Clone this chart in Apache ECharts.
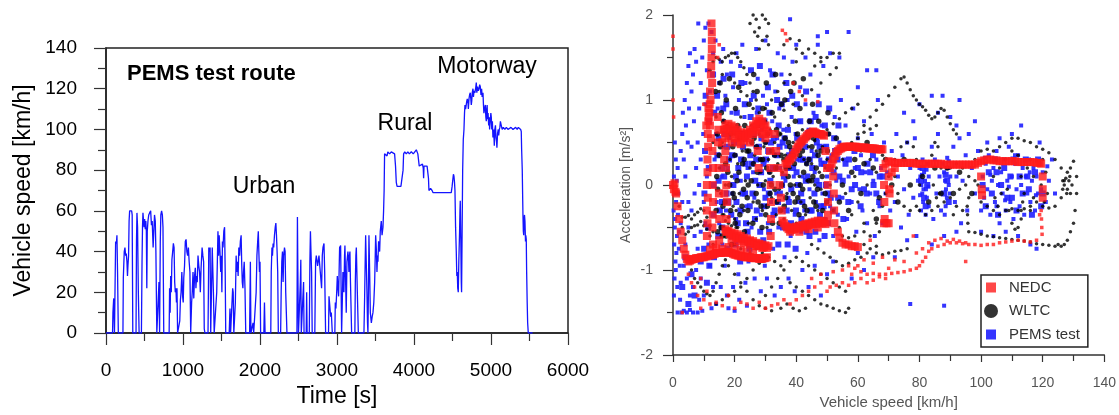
<!DOCTYPE html>
<html><head><meta charset="utf-8">
<script src="https://cdn.jsdelivr.net/npm/echarts@6/dist/echarts.min.js"></script>
<style>html,body{margin:0;padding:0;background:#fff}#c{width:1119px;height:415px}</style>
</head><body><div id="c"></div>
<script>
// ---------- Left panel: PEMS test route speed trace ----------
const timeS = [0,85,90,100,110,120,125,135,142,150,160,220,225,237,246,255,263,272,279,285,293,300,307,333,340,348,390,396,402,410,420,430,460,468,474,480,486,494,502,510,517,524,530,536,545,555,566,580,590,600,612,622,630,640,648,660,680,688,696,705,712,722,732,740,750,820,826,833,840,848,856,866,875,884,892,900,908,915,922,930,950,958,966,975,985,995,1003,1010,1020,1030,1040,1050,1060,1070,1080,1090,1100,1112,1120,1130,1140,1150,1160,1168,1176,1185,1195,1205,1215,1225,1235,1248,1258,1268,1276,1285,1325,1335,1345,1352,1360,1372,1380,1388,1395,1405,1430,1438,1446,1454,1462,1470,1480,1490,1497,1505,1512,1520,1530,1540,1548,1555,1600,1610,1618,1640,1645,1652,1660,1672,1680,1690,1700,1708,1716,1725,1735,1745,1755,1762,1770,1778,1786,1795,1805,1815,1865,1875,1882,1900,1910,1918,1942,1950,1960,1970,1978,1985,1993,2000,2008,2050,2058,2066,2140,2146,2155,2162,2170,2178,2188,2198,2206,2214,2222,2230,2238,2268,2275,2283,2292,2300,2308,2318,2326,2334,2342,2350,2480,2486,2492,2500,2518,2524,2530,2536,2560,2566,2572,2600,2606,2612,2640,2648,2655,2662,2670,2678,2712,2722,2731,2740,2748,2757,2766,2774,2783,2792,2800,2809,2818,2831,2840,2852,2890,2896,2903,2909,2918,2926,2939,2972,2978,2986,2996,3004,3013,3021,3030,3034,3047,3060,3068,3077,3085,3090,3098,3103,3112,3120,3129,3142,3150,3155,3162,3168,3175,3181,3190,3232,3238,3245,3251,3258,3264,3277,3350,3359,3366,3372,3380,3389,3396,3402,3408,3415,3424,3433,3446,3457,3467,3478,3489,3495,3502,3510,3519,3526,3532,3540,3554,3562,3575,3585,3597,3605,3612,3618,3640,3650,3660,3683,3705,3727,3748,3760,3770,3780,3800,3830,3848,3858,3865,3880,3900,3920,3940,3965,3990,4010,4030,4050,4060,4068,4090,4110,4120,4125,4130,4150,4170,4181,4188,4194,4205,4215,4224,4235,4246,4280,4320,4360,4400,4440,4484,4495,4506,4512,4519,4526,4532,4540,4549,4556,4562,4568,4575,4582,4592,4597,4601,4608,4614,4618,4625,4632,4640,4649,4656,4662,4670,4679,4686,4692,4700,4706,4714,4722,4731,4738,4744,4750,4756,4766,4772,4780,4790,4800,4809,4816,4825,4835,4845,4853,4861,4870,4878,4885,4896,4902,4908,4915,4926,4933,4939,4945,4950,4955,4962,4970,4978,4982,4990,4998,5004,5010,5018,5025,5033,5040,5043,5050,5058,5065,5072,5077,5085,5094,5100,5108,5115,5122,5133,5145,5160,5180,5199,5220,5240,5260,5285,5300,5320,5340,5355,5372,5385,5393,5398,5406,5412,5415,5420,5425,5430,5435,5441,5448,5452,5458,5463,5470,5476,5484,5540];
const speedKmh = [0,0,10,17,0,0,45,44,48,30,0,0,27,40,42,38,39,35,28,33,38,55,60,60,58,0,0,45,59,52,20,0,0,35,52,59,56,52,56,51,55,50,22,50,55,58,59,60,53,55,42,42,58,55,40,0,0,25,0,45,58,60,58,52,0,0,22,10,28,20,36,40,44,42,25,20,22,15,22,0,0,6,16,20,30,18,15,27,33,45,46,40,38,42,35,30,0,15,20,30,17,28,32,22,28,25,38,33,30,20,32,42,38,35,2,0,0,42,40,42,0,0,42,30,20,0,0,20,35,50,38,48,40,30,38,20,45,42,50,52,30,0,0,12,0,0,22,20,0,0,15,38,30,35,28,42,38,45,48,35,25,22,30,35,22,0,0,35,0,0,5,0,0,20,38,45,50,40,30,35,0,0,15,0,0,30,42,38,44,42,48,52,54,48,40,30,0,0,20,35,40,25,38,42,40,20,10,0,0,57,30,0,0,25,36,0,0,25,0,0,20,0,0,35,50,40,30,0,0,35,38,38,33,33,38,38,30,30,22,38,42,44,30,0,0,18,15,15,8,10,0,0,15,12,20,28,22,18,35,42,43,0,0,30,22,20,38,43,25,10,35,40,35,30,38,40,25,15,0,0,25,38,42,30,20,0,0,18,35,48,35,20,5,0,20,48,30,10,5,8,10,15,25,35,48,42,30,38,35,45,40,50,55,48,52,60,70,88,88,87,89,88,89,89,88,82,74,72,72,72,72,80,88,89,88,89,88,89,88,89,90,88,88,82,82,83,81,76,82,82,82,82,76,70,70,71,71,70,69,69,69,69,69,69,69,72,76,78,77,74,70,52,40,28,30,22,20,35,50,60,65,45,25,20,50,80,95,100,108,112,110,110,114,115,114,110,115,117,118,115,112,114,118,120,116,119,118,120,123,118,121,119,120,122,121,117,120,116,118,112,108,110,112,106,104,110,112,105,108,102,106,100,104,108,106,100,104,96,100,95,92,100,102,96,94,91,98,100,97,100,101,104,102,100,101,100,101,100,100,101,100,100,101,100,101,101,100,99,90,80,65,58,50,48,56,58,55,45,48,46,30,15,5,0,0];
const timeTicks = [0,1000,2000,3000,4000,5000,6000];
const speedTicks = [0,20,40,60,80,100,120,140];

// ---------- Right panel: acceleration [m/s2] vs vehicle speed [km/h] ----------
const pemsTest = [[0.3,0.1],[0.5,-0.1],[0.2,-0.3],[0.6,-0.5],[0.4,-0.7],[0.8,-0.9],[0.5,-1.1],[0.3,-1.3],[0.9,0.3],[1.2,0.05],[1.0,-0.2],[0.7,-0.4],[1.3,-0.6],[1.1,-0.8],[0.9,-1.0],[1.4,-1.2],[0.6,0.5],[1.5,0.2],[1.8,-0.1],[1.6,-0.35],[2.0,-0.55],[1.9,-0.75],[2.2,-0.95],[2.5,-1.15],[2.3,-1.35],[1.5,-1.5],[2.8,-1.5],[3.5,-1.48],[4.5,-1.5],[5.5,-1.47],[6.5,-1.5],[8,-1.5],[9.5,-1.48],
[2.5,0.4],[3,0.6],[3.2,0.85],[3.8,1.0],[4.2,0.7],[4.5,1.2],[5,1.4],[5.5,1.55],[4.8,0.5],[3.5,0.3],[5.2,0.9],[6,1.1],[6.5,1.3],[7,1.6],[7.5,1.45],[6.8,0.75],[6,0.45],[7.5,0.2],[8,0.5],[8.5,0.9],[9,1.2],[9.5,1.5],[10,1.7],[10.5,1.85],[11,1.35],[8.2,1.9],[11.5,1.9],[12.5,1.8],[13,1.55],[12,1.1],[10.5,0.95],[9.8,0.6],[9,0.3],[8.5,0.0],[7,-0.1],[6,-0.3],[5,-0.5],[4,-0.7],[3.5,-0.95],[4.5,-1.1],[5.5,-1.3],[6.5,-1.2],[7.5,-1.0],[8,-0.75],[9,-0.55],[10,-0.2],[11,0.1],[10.5,-0.45],[11.5,-0.7],[12,-0.95],[13,-1.2],[14,-1.4],[12.5,-1.45],[10,-1.3],[9,-1.1],[8.5,-1.35],[6,-0.9],[7,-0.6],[5,-0.2],[4,0.1],[3,-0.2],[2.5,-0.45],
[13.5,0.3],[14,0.6],[14.5,0.9],[15,1.2],[15.5,1.45],[14.2,-0.2],[15,-0.45],[15.8,0.1],[16.2,0.45],[16.5,0.75],[17,1.05],[17.5,1.3],[16,-0.7],[16.8,-0.95],[17.2,-0.3],[17.8,0.2],[18.3,0.55],[18.5,-0.55],[19,0.85],[19.5,1.15],[19.2,-0.1],[19.8,-0.8],[20.3,0.35],[20.5,-0.4],[21,0.65],[21.4,1.0],[21.8,1.4],[21.2,-1.05],[22,0.05],[22.5,-0.65],[22.8,0.45],[23.2,0.8],[23.5,1.2],[23.8,-0.25],[24.2,0.2],[24.5,-0.9],[25,0.6],[25.3,1.0],[25.5,-0.5],[13.8,1.7],[16.3,1.6],[18.8,1.45],[20.6,1.55],[22.5,1.65],[15.5,-1.2],[17.5,-1.3],[19.5,-1.2],[21.5,-1.35],[23.5,-1.15],[18,-1.45],[20,-1.48],[24,-1.42],
[26,0.15],[26.4,-0.15],[26.8,0.45],[27.2,0.85],[27.5,1.25],[27.8,-0.7],[28.2,0.3],[28.5,-0.35],[28.8,0.65],[29.2,1.05],[29.5,-0.05],[29.8,-0.95],[30.2,0.5],[30.5,0.95],[30.8,-0.45],[31.2,0.15],[31.5,1.35],[31.8,-0.2],[32.2,0.75],[32.5,-0.75],[32.8,0.35],[33.2,1.1],[33.5,-0.1],[33.8,0.55],[34.2,-0.5],[34.5,0.9],[34.8,0.2],[35.2,1.3],[35.5,-0.3],[35.8,0.65],[36.2,-0.85],[36.5,0.05],[36.8,0.45],[37.2,1.0],[37.5,-0.15],[37.8,0.3],[38.2,-0.6],[38.5,0.8],[38.8,1.45],[39.2,0.1],[39.5,-0.35],[39.8,0.6],[26.5,-1.1],[28.5,-1.25],[30.5,-1.1],[33,-1.3],[35,-1.2],[37.5,-1.1],[39.5,-1.25],[27,1.6],[30,1.7],[34,1.55],[36,1.5],[38,1.95],[40,1.65],
[40.2,0.3],[40.6,-0.2],[41,0.75],[41.3,1.15],[41.6,-0.55],[42,0.1],[42.3,0.5],[42.6,-0.3],[43,0.95],[43.3,0.25],[43.6,-0.8],[44,0.65],[44.3,-0.05],[44.6,1.3],[45,0.4],[45.3,-0.45],[45.6,0.85],[46,0.15],[46.4,-0.2],[46.8,0.55],[47.2,1.05],[47.5,-0.65],[47.8,0.3],[48.2,0.7],[48.5,-0.1],[48.8,1.4],[49.2,0.45],[49.5,-0.4],[50,0.1],[50.5,0.6],[51,-0.25],[51.5,0.35],[52,-0.6],[52.5,0.8],[53,0.05],[53.5,-0.35],[54,0.5],[54.5,1.0],[55,-0.15],[42,-1.0],[44,-1.2],[46,-0.95],[48,-1.3],[50,-1.05],[52,-0.9],[43,1.5],[47,1.65],[51,1.55],[54,1.5],[57,1.8],[50,1.8],[47,1.75],
[55.5,0.3],[56,0.7],[56.5,-0.4],[57,0.1],[57.5,0.45],[58,-0.2],[58.5,0.9],[59,0.2],[59.5,-0.55],[60,0.55],[60.5,-0.05],[61,0.35],[61.5,-0.3],[62,0.75],[62.5,0.15],[63,-0.45],[63.5,0.45],[64,-0.1],[64.5,0.6],[65,0.05],[65.5,-0.6],[66,0.3],[66.5,1.0],[67,-0.25],[67.5,0.2],[68,-0.45],[68.5,0.5],[69,-0.1],[69.5,0.15],[60,-0.8],[62,-1.0],[65,-0.85],[58,-1.1],[66,1.35],[60,1.15],[63,1.35],
[70.5,-0.3],[71,0.4],[72,-0.2],[72.5,0.6],[73,0.1],[74,-0.5],[74.5,0.35],[75,-0.05],[76,0.5],[76.5,-0.35],[77,0.2],[78,-0.15],[78.5,0.55],[79,-0.6],[79.5,0.05],
[80,0.2],[80.3,0.1],[80.6,0.0],[80.9,-0.1],[81.2,-0.2],[81.5,0.15],[81.8,0.05],[82.1,-0.05],[82.4,-0.15],[82.7,0.25],[83,0.1],[80.5,-0.3],[81,0.3],[82,-0.35],[83,-0.25],[81.3,-0.05],[82.3,0.18],[80.8,0.12],[80.2,-0.12],[82.9,-0.02],
[84,0.45],[84.5,-0.4],[85,0.3],[85.5,-0.1],[86,0.6],[86.5,0.1],[87,-0.3],[87.5,0.25],
[88,0.15],[88.3,0.05],[88.6,-0.05],[88.9,-0.15],[89.2,0.2],[89.5,0.0],[89.8,-0.1],[90,0.1],[88.5,-0.25],[89.5,0.28],[88.2,-0.35],[89,0.32],
[91,0.45],[91.5,-0.2],[92,0.1],[93,0.55],[93.5,-0.45],[94,0.05],[95,0.35],[95.5,-0.3],[90,0.8],[92,0.7],[86,0.85],[78,0.75],[84,1.05],[80,0.95],[75,0.85],[96,0.6],[88,-0.6],[84,-0.7],[76,-0.65],[92,-0.55],
[87.5,1.05],[93,1.0],[98,0.75],[77,-1.4],[88,-1.42],[72,-0.85],
[97,0.2],[98,-0.1],[99,0.4],[100,-0.3],[100.5,0.1],[101,-0.15],[101.5,0.25],[102,-0.05],[102.5,0.35],[103,-0.35],[103.5,0.05],[104,0.2],[104.5,-0.2],[105,0.4],[105.5,0.0],[106,-0.45],[106.5,0.15],[107,-0.1],[107.5,0.3],[108,-0.3],[108.5,0.05],[109,0.45],[109.5,-0.2],[110,0.1],[110.5,-0.4],[111,0.25],[111.5,-0.05],[112,0.35],[112.5,-0.25],[113,0.0],[113.5,0.2],[114,-0.35],[114.5,0.1],[115,-0.1],[115.5,0.3],[116,-0.2],[116.5,0.05],[117,0.2],[117.5,-0.3],[118,0.1],[118.5,-0.1],[119,0.25],[119.5,-0.05],[120,0.15],[121,-0.2],[122,0.05],[123,0.3],[124,-0.1],[100,-0.55],[104,-0.6],[108,-0.55],[112,-0.6],[116,-0.7],[118,-0.75],[102,0.5],[110,0.6],[113,0.7],[106,0.55],[119,0.5],[111,0.35],[105,-0.25],[103,0.12],[107.8,-0.18],[115.8,0.15],[117.8,-0.12],[101.2,0.32],[109,-0.02],[121.5,0.22]];

const pemsCore = [[10.2,-0.1],[10.4,0.4],[10.1,-0.75],[10.6,1.05],[11.6,0.2],[11.4,-0.5],[11.8,-0.95],[11.7,0.75],[13.2,0.0],[13.1,-0.35],[13.4,0.85],[13.3,-0.85],[13.0,1.3],[14.4,0.35],[14.7,-0.6],[14.3,1.05],[14.8,0.05],[16.1,0.2],[15.9,-0.2],[16.3,0.9],[16.0,-0.5],[16.4,1.25],[17.4,-0.1],[17.6,0.45],[17.7,-0.75],[17.3,0.95],[19.1,0.35],[18.9,-0.35],[19.3,0.65],[19.0,-0.6],[19.2,1.3],[20.4,0.1],[20.7,0.85],[20.6,-0.2],[20.3,-0.7],[22.1,0.3],[21.9,-0.3],[22.2,1.2],[22.3,0.6],[21.8,-0.9],[23.4,-0.1],[23.6,0.25],[23.3,0.95],[23.7,-0.45],[25.1,0.35],[24.9,-0.25],[25.2,0.8],[24.8,-0.75],[25.3,1.35],[26.3,0.6],[26.6,-0.4],[26.7,0.05],[26.2,1.05],[28.1,0.0],[27.9,0.45],[28.3,-0.55],[27.7,0.9],[28.2,1.4],[29.4,0.25],[29.6,-0.25],[29.7,0.75],[29.3,-0.65],[31.1,-0.1],[30.9,0.4],[31.3,0.85],[31.2,-0.55],[30.8,1.15],[32.4,0.2],[32.6,-0.35],[32.7,0.55],[32.3,1.3],[34.1,-0.2],[33.9,0.35],[34.3,0.7],[34.2,-0.7],[33.8,1.0],[35.4,0.0],[35.6,0.5],[35.7,-0.5],[35.3,0.95],[37.1,0.2],[36.9,-0.3],[37.3,0.65],[37.2,-0.7],[36.8,1.2],[38.4,-0.05],[38.6,0.4],[38.7,1.05],[38.3,-0.45],[40.1,0.15],[39.9,-0.3],[40.3,0.55],[40.2,0.95],[39.8,-0.75],[41.4,0.3],[41.6,-0.1],[41.7,-0.4],[41.3,0.75],[43.1,0.05],[42.9,0.45],[43.3,-0.55],[43.2,1.1],[44.4,0.3],[44.6,-0.3],[44.7,0.75],[44.3,-0.6],[46.1,0.35],[45.9,-0.1],[46.3,0.8],[46.2,-0.55],[47.4,0.0],[47.6,0.45],[47.7,-0.35],[47.3,0.95],[49.1,0.25],[48.9,-0.25],[49.3,0.7],[49.2,-0.6],[50.4,-0.1],[50.6,0.3],[50.7,0.9],[50.3,-0.45],[52.1,0.15],[51.9,-0.3],[52.3,0.55],[53.4,0.3],[53.6,-0.15],[53.7,0.7],[55.1,0.05],[54.9,0.45],[55.3,-0.4],[57.1,0.3],[56.9,-0.2],[59.1,0.0],[58.9,0.4],[61.1,0.15],[60.9,-0.25],[63.1,0.25],[62.9,-0.1],[65.1,0.0],[64.9,0.35],[67.1,0.1],[66.9,-0.2],
[3,-1.2],[5,-1.4],[7,-1.3],[9,-0.9],[11,-1.15],[4,-0.85],[6,-1.05],
[100.5,0.0],[101.5,-0.25],[102.5,0.15],[103.5,-0.1],[104.5,0.3],[105.5,-0.35],[106.5,0.0],[107.5,0.2],[108.5,-0.15],[109.5,0.1],[110.5,0.3],[111.5,-0.3],[112.5,0.1],[113.5,-0.1],[114.5,0.3],[115.5,-0.05],[116.5,-0.35],[117.5,0.15],[118.5,0.3],[119.5,-0.25],[105,0.15],[110,-0.15],[115,0.1],[120,-0.1],
[80.5,0.05],[81.5,-0.15],[82.5,0.0],[81,0.2],[82,-0.25],[89,0.05],[88.5,0.12],[89.5,-0.2],[88,-0.1],
[14.8,0.55],[15.2,-0.3],[16.6,0.1],[16.8,0.6],[18.0,-0.2],[18.2,0.3],[19.6,0.0],[19.8,0.5],[21.0,-0.45],[21.2,0.2],[22.6,-0.1],[22.7,0.45],[24.0,0.1],[24.2,-0.55],[25.6,0.25],[25.8,-0.1],[27.0,0.3],[27.2,-0.3],[28.6,0.15],[28.7,0.55],[30.0,-0.15],[30.2,0.3],[31.6,0.05],[31.8,0.5],[33.0,-0.3],[33.2,0.2],[34.6,0.45],[34.7,-0.1],[36.0,0.1],[36.2,0.55],[37.6,-0.2],[37.7,0.35],[39.0,0.2],[39.2,-0.5],[40.6,0.0],[40.7,0.45],[42.0,-0.2],[42.2,0.3],[43.6,0.1],[43.7,0.6],[45.0,-0.3],[45.2,0.2],[46.6,0.05],[46.7,0.5],[48.0,-0.25],[48.2,0.25],[49.6,0.0],[49.7,0.45],[51.0,0.2],[51.2,-0.15],[52.6,0.4],[54.0,0.1],[56.0,0.25],[58.0,-0.05],[60.0,0.2],[62.0,-0.05],[64.0,0.15],[66.0,-0.1],[68.0,0.1]];

const wltc = [[1,-0.1],[2,-0.25],[3,-0.38],[4,-0.38],[5,-0.36],[6,-0.4],[7,-0.35],[8,-0.32],[9,-0.28],[10,-0.3],[11,-0.38],[12,-0.48],[13,-0.55],
[3,-0.5],[4,-0.58],[5,-0.55],[6,-0.5],[7,-0.48],[8,-0.47],[9,-0.43],[10,-0.48],[11,-0.52],[12,-0.6],[13,-0.7],[14,-0.8],
[6,-1.0],[7,-1.1],[8,-1.15],[9,-1.2],[10,-1.25],[11,-1.28],[12,-1.3],[13,-1.25],[14,-1.15],[15,-1.05],[16,-0.95],[17,-0.88],
[14,-1.4],[16,-1.35],[18,-1.3],[20,-1.25],[22,-1.2],[24,-1.1],[26,-1.0],[28,-0.92],
[18,-0.95],[20,-1.05],[22,-1.15],[24,-1.25],[26,-1.35],[28,-1.42],[30,-1.45],[32,-1.48],
[30,-1.3],[32,-1.2],[34,-1.1],[36,-1.0],[38,-0.9],
[35,-1.45],[37,-1.4],[39,-1.45],[41,-1.48],[43,-1.45],
[38,-1.15],[40,-1.2],[42,-1.25],[44,-1.3],[46,-1.35],[48,-1.4],[50,-1.42],[52,-1.45],[54,-1.48],[56,-1.5],[57,-1.45],
[40,-0.85],[42,-0.9],[44,-0.95],[46,-1.0],[48,-1.05],[50,-1.1],[52,-1.15],[54,-1.2],[56,-1.25],
[45,-0.7],[47,-0.75],[49,-0.8],[51,-0.85],[53,-0.9],[55,-0.95],[57,-0.92],[59,-0.88],[61,-0.85],[63,-0.8],
[55,-0.6],[57,-0.62],[59,-0.6],[62,-0.7],[64,-0.75],[66,-0.72],
[66,-0.8],[68,-0.82],[70,-0.8],[72,-0.78],[74,-0.77],[76,-0.75],
[25,-0.8],[27,-0.75],[29,-0.8],[31,-0.85],[33,-0.9],[35,-0.95],[20,-0.7],[22,-0.75],[24,-0.82],
[16,-0.35],[17,-0.42],[18,-0.38],[19,-0.48],[20,-0.4],[21,-0.5],[16.5,-0.5],[18.5,-0.55],[20.5,-0.3],
[12,1.35],[13,1.45],[14,1.5],[15,1.48],[16,1.45],[17,1.5],[18,1.52],[19,1.55],[20,1.55],[21,1.5],[22,1.45],[23,1.38],[24,1.3],[25,1.2],[26,1.1],[27,1.0],
[25,1.9],[26,2.0],[27,1.95],[28,1.85],[29,2.0],[30,1.95],[31,1.9],[27.5,1.75],[29,1.7],[30.5,1.75],[28,1.6],[26.5,1.8],[31,1.65],
[13,0.5],[14,0.8],[15,1.1],[16,1.3],
[20,1.2],[22,1.1],[24,1.05],[26,0.9],[28,0.85],[30,0.9],[32,1.0],[34,1.1],[36,1.2],[38,1.3],[40,1.45],[42,1.55],[44,1.6],[46,1.55],[48,1.5],
[30,0.75],[33,0.8],[36,0.88],[39,0.95],[42,1.05],[45,1.12],[48,1.2],[51,1.3],[53,1.38],
[44,0.45],[46,0.52],[48,0.58],[50,0.65],[52,0.72],[54,0.78],[56,0.85],[58,0.9],[60,0.95],
[50,0.3],[52,0.35],[54,0.4],[56,0.45],[58,0.5],[60,0.55],[62,0.62],[64,0.66],[66,0.7],
[60,0.6],[62,0.7],[64,0.8],[66,0.88],[68,0.95],[70,1.05],[72,1.15],[74,1.25],[75,1.27],[76,1.2],[77,1.12],[78,1.05],[79,1.0],[80,0.95],[81,0.92],[82,0.88],[83,0.82],[84,0.78],[85,0.8],[86,0.85],[87,0.9],[88,0.88],[89,0.8],[90,0.72],[91,0.65],[92,0.6],
[36,1.65],[38,1.72],[40,1.6],[41,1.7],[46,1.4],[48,1.45],[50,1.5],[52,1.55],[54,1.55],
[15,0.2],[15.5,-0.1],[16,0.5],[16.5,-0.35],[17,0.0],[17.5,0.7],[18,-0.45],[18.5,0.3],[19,0.1],[19.5,-0.25],[20,0.6],[20.5,-0.5],[21,0.25],[21.5,-0.1],[22,0.8],[22.5,0.4],[23,-0.3],[23.5,0.05],[24,0.55],[24.5,-0.45],[25,0.2],[25.5,0.7],[26,-0.2],[26.5,0.35],[27,-0.4],[27.5,0.0],[28,0.6],[28.5,0.15],[29,-0.3],[29.5,0.45],[30,0.05],[30.5,-0.5],[31,0.3],[31.5,0.65],[32,-0.15],[32.5,0.1],[33,0.5],[33.5,-0.35],[34,0.25],[34.5,-0.05],[35,0.6],[35.5,0.15],[36,-0.4],[36.5,0.35],[37,-0.1],[37.5,0.7],[38,0.2],[38.5,-0.3],[39,0.5],[39.5,0.0],[40,-0.45],[40.5,0.4],[41,0.1],[41.5,-0.2],[42,0.65],[42.5,0.3],[43,-0.35],[43.5,0.05],[44,0.55],[44.5,-0.15],[45,0.25],[45.5,-0.45],[46,0.0],[46.5,0.4],[47,-0.3],[47.5,0.15],[48,-0.05],[48.5,0.45],[49,-0.4],[49.5,0.2],
[51,0.0],[52,-0.3],[53,0.2],[54,-0.5],[55,0.3],[56,-0.1],[57,0.45],[58,-0.35],[59,0.1],[60,-0.2],[61,0.4],[62,-0.45],[63,0.0],[64,0.3],[65,-0.3],[66,0.15],[67,-0.55],[68,0.35],[69,-0.1],[70,0.1],[62,-0.55],[64,-0.6],[66,-0.45],[68,-0.25],
[72,0.3],[74,0.45],[76,0.5],[78,0.45],[79,0.3],[80,0.0],[79,-0.25],[77,-0.3],[75,-0.25],[73,-0.1],[72,0.1],
[84,0.35],[85,0.5],[86,0.45],[87,0.2],[86.5,-0.1],[85.5,-0.15],[84.5,0.0],
[90,0.2],[92,0.25],[94,0.2],[96,0.1],[98,0.05],[96,-0.15],[94,-0.3],[92,-0.25],[90,-0.15],[88,-0.2],[86,-0.25],[84,-0.3],[82,-0.35],[80,-0.3],[91,-0.35],[93,-0.05],[95,0.0],
[98,0.3],[100,0.4],[102,0.42],[104,0.4],[106,0.45],[108,0.5],[110,0.55],[112,0.55],[114,0.52],[116,0.5],[118,0.45],[120,0.42],[122,0.38],[124,0.3],[126,0.2],[127,0.05],[126,-0.15],[124,-0.25],[122,-0.27],[120,-0.25],[118,-0.2],[116,-0.25],[114,-0.28],[112,-0.3],[110,-0.28],[108,-0.3],[106,-0.35],[104,-0.3],[102,-0.25],[100,-0.2],[99,0.0],
[108,0.3],[110,0.4],[112,0.35],[113,0.1],[113.5,-0.2],[113,-0.4],[112,-0.5],[111,-0.52],[110,-0.45],[109,-0.3],[108.5,-0.05],
[113,-0.3],[114,-0.1],[115,0.2],[116,0.3],[117,0.1],[117,-0.15],[116,-0.3],
[104,0.1],[105,0.3],[106,0.2],[106.5,-0.1],[105.5,-0.25],[104.5,-0.15],
[120,0.3],[121,0.15],[121.5,-0.1],[120.5,-0.2],[119.5,0.0],
[128,0.15],[129,0.2],[130,0.28],[131,0.1],[131,-0.1],[130.5,-0.3],[130,-0.45],[129,-0.55],[128,-0.65],[127,-0.7],[126,-0.72],[125,-0.7],
[127,0.0],[127.5,0.08],[128,-0.05],[128.5,0.05],[129,-0.1],[129.5,0.0],[127.8,-0.1],[128.8,0.1],[126.5,-0.05],[126.5,0.05],
[96,-0.55],[98,-0.56],[100,-0.58],[102,-0.6],[104,-0.61],[106,-0.62],[108,-0.63],[110,-0.64],[112,-0.65],[114,-0.66],[116,-0.67],[118,-0.69],[120,-0.7],[122,-0.71],[124,-0.72],
[95.5,-0.25],[95.6,-0.35],[95.7,-0.45]];

const wltcCore = [[14.2,0.1],[14.0,-0.3],[14.4,0.6],[13.8,1.1],[15.4,0.45],[15.6,-0.5],[15.7,0.85],[15.3,1.2],[17.1,0.25],[16.9,-0.2],[17.3,1.0],[17.2,-0.6],[18.4,0.0],[18.6,0.6],[18.7,-0.3],[18.3,1.25],[20.1,0.35],[19.9,-0.15],[20.3,0.9],[20.2,-0.45],[21.4,0.15],[21.6,0.55],[21.7,-0.35],[21.3,1.15],[23.1,0.3],[22.9,-0.05],[23.3,0.7],[23.2,-0.55],[24.4,0.0],[24.6,0.4],[24.7,0.95],[24.3,-0.3],[26.1,0.25],[25.9,-0.45],[26.3,0.55],[26.2,1.3],[27.4,0.15],[27.6,-0.2],[27.7,0.7],[27.3,1.1],[29.1,0.3],[28.9,-0.5],[29.3,0.0],[29.2,0.9],[30.4,0.2],[30.6,-0.25],[30.7,0.6],[30.3,1.2],[32.1,0.4],[31.9,0.0],[32.3,-0.45],[32.2,0.85],[33.4,0.2],[33.6,0.65],[33.7,-0.2],[33.3,1.3],[35.1,0.35],[34.9,-0.3],[35.3,0.0],[35.2,0.95],[36.4,0.55],[36.6,-0.15],[36.7,0.2],[36.3,1.0],[38.1,0.0],[37.9,0.45],[38.3,-0.5],[38.2,1.1],[39.4,0.25],[39.6,-0.2],[39.7,0.75],[39.3,1.2],[41.1,0.35],[40.9,-0.35],[41.3,0.0],[41.2,0.9],[42.4,0.15],[42.6,0.55],[42.7,-0.25],[42.3,1.25],[44.1,0.3],[43.9,-0.45],[44.3,0.75],[44.2,0.05],[45.4,0.1],[45.6,0.55],[45.7,-0.2],[45.3,0.95],[47.1,0.35],[46.9,-0.05],[47.3,0.75],[48.4,0.1],[48.6,-0.3],[48.7,0.6],[50.1,0.4],[49.9,-0.2],[50.3,0.85],
[53,0.55],[55,0.0],[57,-0.3],[59,0.3],[61,-0.1],[63,0.5],[65,0.2],[67,-0.15],[69,0.3],[54,-0.2],[58,0.15],[62,0.25],[66,-0.4],
[71,0.0],[73,-0.2],[75,0.3],[77,0.0],[81,0.1],[83,-0.2],[85,0.2],[87,-0.1],[89,0.2],[91,-0.1],[93,0.15],[97,-0.1],
[14.5,-0.05],[15.0,0.35],[16.2,-0.25],[16.4,0.75],[17.8,0.15],[18.0,-0.55],[19.4,0.45],[19.5,-0.1],[20.8,0.05],[21.0,0.7],[22.4,-0.25],[22.6,0.25],[24.0,0.4],[24.1,-0.15],[25.4,0.05],[25.6,0.5],[27.0,-0.1],[27.1,0.45],[28.4,0.3],[28.6,-0.25],[30.0,0.5],[30.1,-0.35],[31.4,0.15],[31.5,-0.1],[33.0,0.35],[33.1,-0.05],[34.4,0.6],[34.5,-0.45],[36.0,0.3],[36.1,-0.25],[37.4,0.1],[37.5,0.5],[39.0,-0.1],[39.1,0.35],[40.4,0.6],[40.5,-0.15],[42.0,0.4],[42.1,-0.05],[43.4,0.25],[43.5,-0.3],[45.0,0.05],[45.1,0.45],[46.4,-0.25],[46.5,0.2],[48.0,0.4],[49.4,-0.1],[50.5,0.6],[14.5,-0.55],[16,-0.6],[19,-0.7]];

const nedcDots = [[0,1.75],[0,1.6],[0,1.0],[0.2,0.8],[35.5,1.82],[36.5,1.78],[41,1.1],[39,1.2],[43,1.0],[37,1.7],[15,1.65],[14.5,1.5],[47,0.98],[10,0.95],
[5,-1.05],[6,-1.15],[7,-1.2],[8,-1.3],[9,-1.1],[10,-1.35],[12,-1.4],[14,-1.38],[16,-1.42],[18,-1.3],[20,-1.45],[22,-1.38],[24,-1.4],[26,-1.45],[28,-1.38],[30,-1.45],[32,-1.42],[34,-1.4],[36,-1.35],[38,-1.4],[40,-1.35],[42,-1.3],[44,-1.25],[46,-1.2],[48,-1.15],[50,-1.25],[51,-1.2],[53,-1.18],[55,-1.15],[57,-1.18],[59,-1.15],[61,-1.1],[63,-1.15],[65,-1.12],[67,-1.08],[69,-1.1],[9,-1.45],[11,-1.25],[3,-1.5],
[55,-1.0],[57,-0.95],[59,-0.98],[61,-1.02],[63,-1.05],[65,-1.04],[67,-1.05],[69,-1.05],[71,-1.04],[73,-1.03],[75,-1.02],[77,-1.0],[79,-0.98],[80,-0.95],[81,-0.9],[82,-0.85],[83,-0.78],[84,-0.75],[86,-0.72],[88,-0.7],[90,-0.68],[92,-0.68],[94,-0.69],[96,-0.7],[98,-0.7],[100,-0.71],[102,-0.7],[104,-0.7],[106,-0.68],[108,-0.67],[110,-0.66],[112,-0.65],[114,-0.66],[116,-0.67],[118,-0.65],
[79,-0.8],[81,-0.75],[83,-0.68],[85,-0.65],[87,-0.63],[89,-0.66],[91,-0.64],[93,-0.66],[95,-0.68],[62,-0.88],[65,-0.92],[68,-0.85],[72,-0.88],[75,-0.9],[60,-0.95],[58,-1.05],[70,-0.98],[45,-1.1],[48,-1.05],[52,-1.02],
[119.5,-0.3],[119.6,-0.4],[119.7,-0.5],[119.8,-0.58],[119,-0.35],[95,-0.9],[78,-0.6],[64,-0.65]];

const nedcBand = [[0,0],[0.3,-0.05],[0.5,0.02],[0.8,-0.08],
[1,-0.1],[1.5,-0.25],[2,-0.4],[2.5,-0.55],[3,-0.65],[3.5,-0.75],[4,-0.82],[4.5,-0.87],
[5,-0.9],[6,-0.88],[7,-0.87],[8,-0.86],[9,-0.85],[10,-0.85],[11,-0.84],[12,-0.83],[13,-0.82],[14,-0.8],[15,-0.8],[16,-0.8],[17,-0.79],[18,-0.79],[19,-0.8],[20,-0.82],[21,-0.83],[22,-0.84],[23,-0.84],[24,-0.85],[25,-0.85],[26,-0.86],[27,-0.86],
[27.5,-0.86],[28,-0.87],[28.5,-0.87],[29,-0.87],[29.5,-0.86],[30,-0.86],[30.5,-0.85],
[12,-0.76],[14,-0.74],[16,-0.75],[18,-0.73],[20,-0.74],[22,-0.76],[24,-0.78],[26,-0.8],
[11,0.0],[11.2,0.3],[11.3,0.6],[11.5,0.75],[11.8,0.85],[12,0.7],[12.3,0.55],[11.5,0.9],[12,1.1],[12.3,1.3],[12.5,1.5],[12.6,1.7],[12.5,1.9],[12.7,1.2],[12.8,0.4],[13,0.2],[13,-0.2],[12.8,-0.5],[13,-0.7],[11,-0.3],[11,-0.6],[11.4,0.45],[10.8,0.7],
[14.5,0.8],[14.6,0.5],[14.8,0.2],[14.9,-0.1],[15,-0.4],[15,-0.65],[14.7,0.65],
[16,0.5],[16.5,0.65],[17,0.7],[18,0.72],[19,0.7],[20,0.68],[21,0.65],[22,0.62],[23,0.6],[24,0.62],[25,0.65],[26,0.7],[27,0.75],[28,0.78],[29,0.75],[30,0.7],[31,0.6],
[17,0.55],[18,0.58],[19,0.5],[20,0.55],[21,0.5],[22,0.48],[23,0.52],[24,0.55],[25,0.5],[26,0.6],[27,0.65],[28,0.62],[29,0.6],[30,0.55],
[17,0.4],[17.2,0.2],[17.3,0.0],[17.5,-0.2],[17.4,-0.4],[17.3,-0.55],[16.6,0.3],[16.7,-0.1],[27.5,0.4],[27.8,0.2],
[17,-0.52],[18,-0.54],[19,-0.56],[20,-0.57],[21,-0.58],[22,-0.6],[23,-0.62],[24,-0.63],[25,-0.65],[26,-0.66],[27,-0.68],[28,-0.69],[29,-0.7],[30,-0.71],[31,-0.72],
[19,-0.65],[21,-0.66],[23,-0.68],[25,-0.7],[27,-0.72],[29,-0.74],
[31.5,0.4],[31.6,0.2],[31.7,0.0],[31.8,-0.2],[31.8,-0.4],[31.7,-0.6],
[33,0.6],[33.5,0.4],[34,0.2],[34.5,0.0],[35,-0.15],[35.3,-0.3],[35.5,-0.42],[36,-0.45],
[36.5,-0.48],[37,-0.5],[38,-0.5],[39,-0.5],[40,-0.49],[41,-0.48],[42,-0.47],[43,-0.46],[44,-0.45],[45,-0.44],[46,-0.43],[47,-0.42],[48,-0.42],[49,-0.43],[50,-0.44],[38,-0.55],[41,-0.55],[44,-0.52],[47,-0.5],
[36,0.15],[36.5,0.25],[37,0.25],[38,0.3],[39,0.35],[40,0.42],[41,0.48],[42,0.52],[43,0.56],[44,0.6],[45,0.62],[46,0.62],[47,0.6],[48,0.6],[49,0.58],[49.5,0.4],[50,0.2],[50.2,0.0],[50.3,-0.2],[50.3,-0.35],
[51,0.2],[52,0.3],[53,0.38],[54,0.42],[55,0.44],[56,0.45],[57,0.45],[58,0.45],[59,0.45],[60,0.44],[61,0.44],[62,0.44],[63,0.43],[64,0.43],[65,0.43],[66,0.42],[67,0.42],[68,0.42],
[52,0.1],[52.2,-0.1],[52.3,-0.3],[52.4,-0.45],
[68.3,0.2],[68.5,0.0],[68.6,-0.2],[68.7,-0.4],[68.5,-0.45],[70,-0.45],[69.3,-0.45],
[69,0.25],[70,0.28],[71,0.27],[72,0.26],[74,0.26],[76,0.26],[78,0.26],[80,0.25],[82,0.25],[84,0.25],[86,0.25],[88,0.24],[90,0.24],[92,0.24],[94,0.24],[96,0.24],[98,0.24],[100,0.28],[102,0.3],[104,0.29],[106,0.28],[108,0.28],[110,0.28],[112,0.27],[114,0.27],[116,0.27],[118,0.26],[119.5,0.25],
[70,0.1],[70.2,-0.05],[70.3,-0.1],[100,0.1],[100.2,-0.05],[100.3,-0.12],[120,0.1],[120,-0.05],[120,-0.15],[71,0.15],[72,0.2],
[55,-0.68],[56,-0.7],[57,-0.7],[58,-0.72],[59,-0.72],[60,-0.73],[54,-0.62],[53.5,-0.55],
[5.5,-0.89],[6.5,-0.87],[7.5,-0.86],[8.5,-0.86],[9.5,-0.85],[10.5,-0.84],[11.5,-0.83],[12.5,-0.82],[13.5,-0.81],[14.5,-0.8],[15.5,-0.8],[16.5,-0.79],[17.5,-0.79],[18.5,-0.8],[19.5,-0.81],[20.5,-0.82],[21.5,-0.83],[22.5,-0.84],[23.5,-0.85],[24.5,-0.85],[25.5,-0.86],[26.5,-0.86],
[16.8,0.62],[17.5,0.66],[18.5,0.65],[19.5,0.63],[20.5,0.6],[21.5,0.58],[22.5,0.56],[23.5,0.58],[24.5,0.6],[25.5,0.62],[26.5,0.68],[27.5,0.72],[28.5,0.72],[29.5,0.68],[30.5,0.64],
[17.5,-0.55],[18.5,-0.58],[19.5,-0.6],[20.5,-0.62],[21.5,-0.63],[22.5,-0.64],[23.5,-0.66],[24.5,-0.67],[25.5,-0.68],[26.5,-0.7],[27.5,-0.71],[28.5,-0.72],[29.5,-0.73],[30.5,-0.74],
[37.5,-0.52],[38.5,-0.53],[39.5,-0.52],[40.5,-0.51],[41.5,-0.5],[42.5,-0.49],[43.5,-0.48],[44.5,-0.47],[45.5,-0.46],[46.5,-0.46],[47.5,-0.45],[48.5,-0.45],[49.5,-0.46],
[37.5,0.28],[38.5,0.32],[39.5,0.38],[40.5,0.45],[41.5,0.5],[42.5,0.54],[43.5,0.58],[44.5,0.61],[45.5,0.63],[46.5,0.61],[47.5,0.6],[48.5,0.59],
[51.5,0.25],[52.5,0.34],[53.5,0.4],[54.5,0.43],[55.5,0.45],[56.5,0.45],[57.5,0.45],[58.5,0.45],[59.5,0.45],[60.5,0.44],[61.5,0.44],[62.5,0.44],[63.5,0.43],[64.5,0.43],[65.5,0.43],[66.5,0.42],[67.5,0.42],
[73,0.26],[75,0.26],[77,0.26],[79,0.25],[81,0.25],[83,0.25],[85,0.25],[87,0.25],[89,0.24],[91,0.24],[93,0.24],[95,0.24],[97,0.24],[99,0.26],[101,0.29],[103,0.3],[105,0.29],[107,0.28],[109,0.28],[111,0.28],[113,0.27],[115,0.27],[117,0.27],[119,0.26],
[11.6,0.8],[11.9,0.95],[12.2,1.0],[12.4,1.4],[12.6,1.6],[12.6,1.8],[11.3,-0.15],[11.2,-0.45],[12.9,0.0],[12.9,-0.35],[11.2,0.15]];

const seriesNames = ['NEDC', 'WLTC', 'PEMS test'];

const FONT = '"Liberation Sans", Arial, sans-serif';
const chart = echarts.init(document.getElementById('c'), null, {renderer: 'canvas'});
const rectIcon = 'path://M0,0M14,14M2,2h10v10h-10z';
const plain = v => String(v);

chart.setOption({
  animation: false,
  backgroundColor: '#ffffff',
  textStyle: {fontFamily: FONT},
  grid: [
    {left: 106, top: 48, width: 462, height: 285, show: true, borderColor: '#222', borderWidth: 1.5, backgroundColor: 'transparent'},
    {left: 673, top: 15, width: 432, height: 343}
  ],
  xAxis: [
    {gridIndex: 0, type: 'value', min: timeTicks[0], max: timeTicks[timeTicks.length - 1], interval: 1000,
     name: 'Time [s]', nameLocation: 'middle', nameGap: 52,
     nameTextStyle: {fontSize: 23, color: '#000', fontFamily: FONT},
     axisLine: {show: true, onZero: false, lineStyle: {color: '#222', width: 1.5}},
     axisTick: {show: true, length: 12, lineStyle: {color: '#333', width: 1.2}},
     minorTick: {show: true, splitNumber: 2, length: 8, lineStyle: {color: '#333', width: 1.2}},
     axisLabel: {fontSize: 19, color: '#000', margin: 28, fontFamily: FONT, formatter: plain},
     splitLine: {show: false}},
    {gridIndex: 1, type: 'value', min: 0, max: 140, interval: 20,
     name: 'Vehicle speed [km/h]', nameLocation: 'middle', nameGap: 40,
     nameTextStyle: {fontSize: 15, color: '#555', fontFamily: FONT},
     axisLine: {show: true, onZero: false, lineStyle: {color: '#333', width: 1.5}},
     axisTick: {show: true, length: 7, lineStyle: {color: '#333', width: 1.2}},
     minorTick: {show: true, splitNumber: 2, length: 6, lineStyle: {color: '#333', width: 1.2}},
     axisLabel: {fontSize: 14, color: '#555', margin: 21, fontFamily: FONT, formatter: plain},
     splitLine: {show: false}}
  ],
  yAxis: [
    {gridIndex: 0, type: 'value', min: speedTicks[0], max: speedTicks[speedTicks.length - 1], interval: 20,
     name: 'Vehicle speed [km/h]', nameLocation: 'middle', nameGap: 71,
     nameTextStyle: {fontSize: 23, color: '#000', fontFamily: FONT},
     axisLine: {show: true, lineStyle: {color: '#222', width: 1.5}},
     axisTick: {show: true, length: 12, lineStyle: {color: '#333', width: 1.2}},
     minorTick: {show: true, splitNumber: 2, length: 8, lineStyle: {color: '#333', width: 1.2}},
     axisLabel: {fontSize: 19, color: '#000', margin: 29, fontFamily: FONT, formatter: plain},
     splitLine: {show: false}},
    {gridIndex: 1, type: 'value', min: -2, max: 2, interval: 1,
     name: 'Acceleration [m/s²]', nameLocation: 'middle', nameGap: 40,
     nameTextStyle: {fontSize: 14, color: '#555', fontFamily: FONT},
     axisLine: {show: true, onZero: false, lineStyle: {color: '#333', width: 1.5}},
     axisTick: {show: true, length: 10, lineStyle: {color: '#333', width: 1.2}},
     minorTick: {show: true, splitNumber: 2, length: 6, lineStyle: {color: '#333', width: 1.2}},
     axisLabel: {fontSize: 14, color: '#555', margin: 20, fontFamily: FONT, formatter: plain},
     splitLine: {show: false}}
  ],
  legend: {
    show: true, orient: 'vertical', left: 981, top: 275,
    padding: [5, 8, 5, 3], itemGap: 8.5, itemWidth: 26, itemHeight: 14,
    borderColor: '#222', borderWidth: 1.5, borderRadius: 0, backgroundColor: '#fff',
    textStyle: {fontSize: 15, color: '#333', fontFamily: FONT},
    selectedMode: false,
    data: [
      {name: seriesNames[0], icon: rectIcon},
      {name: seriesNames[1], icon: 'circle'},
      {name: seriesNames[2], icon: rectIcon}
    ]
  },
  graphic: [
    {type: 'text', left: 127, top: 63, style: {text: 'PEMS test route', font: 'bold 22px ' + FONT, fill: '#000'}},
    {type: 'text', x: 264, y: 187, style: {text: 'Urban', font: '23px ' + FONT, fill: '#000', align: 'center', verticalAlign: 'middle'}},
    {type: 'text', x: 405, y: 124, style: {text: 'Rural', font: '23px ' + FONT, fill: '#000', align: 'center', verticalAlign: 'middle'}},
    {type: 'text', x: 487, y: 67, style: {text: 'Motorway', font: '23px ' + FONT, fill: '#000', align: 'center', verticalAlign: 'middle'}}
  ],
  series: [
    {type: 'line', name: 'speed', xAxisIndex: 0, yAxisIndex: 0,
     data: timeS.map((t, i) => [t, speedKmh[i]]),
     showSymbol: false, symbol: 'none', lineStyle: {color: '#1414ff', width: 1.3}, itemStyle: {color: '#1414ff'}},
    {type: 'scatter', name: seriesNames[2], xAxisIndex: 1, yAxisIndex: 1, data: pemsTest,
     symbol: 'rect', symbolSize: 4, itemStyle: {color: '#1f1fff', opacity: 0.9}},
    {type: 'scatter', name: seriesNames[2], xAxisIndex: 1, yAxisIndex: 1, data: pemsCore,
     symbol: 'rect', symbolSize: 6, itemStyle: {color: '#1f1fff', opacity: 0.9}},
    {type: 'scatter', name: seriesNames[1], xAxisIndex: 1, yAxisIndex: 1, data: wltc,
     symbol: 'circle', symbolSize: 3.5, itemStyle: {color: '#000000'}},
    {type: 'scatter', name: seriesNames[1], xAxisIndex: 1, yAxisIndex: 1, data: wltcCore,
     symbol: 'circle', symbolSize: 5.5, itemStyle: {color: '#000000'}},
    {type: 'scatter', name: seriesNames[0], xAxisIndex: 1, yAxisIndex: 1, data: nedcDots,
     symbol: 'rect', symbolSize: 3.5, itemStyle: {color: '#ff1a1a'}},
    {type: 'scatter', name: seriesNames[0], xAxisIndex: 1, yAxisIndex: 1, data: nedcBand,
     symbol: 'rect', symbolSize: 8, itemStyle: {color: '#ff1a1a'}}
  ]
});
</script>
</body></html>
